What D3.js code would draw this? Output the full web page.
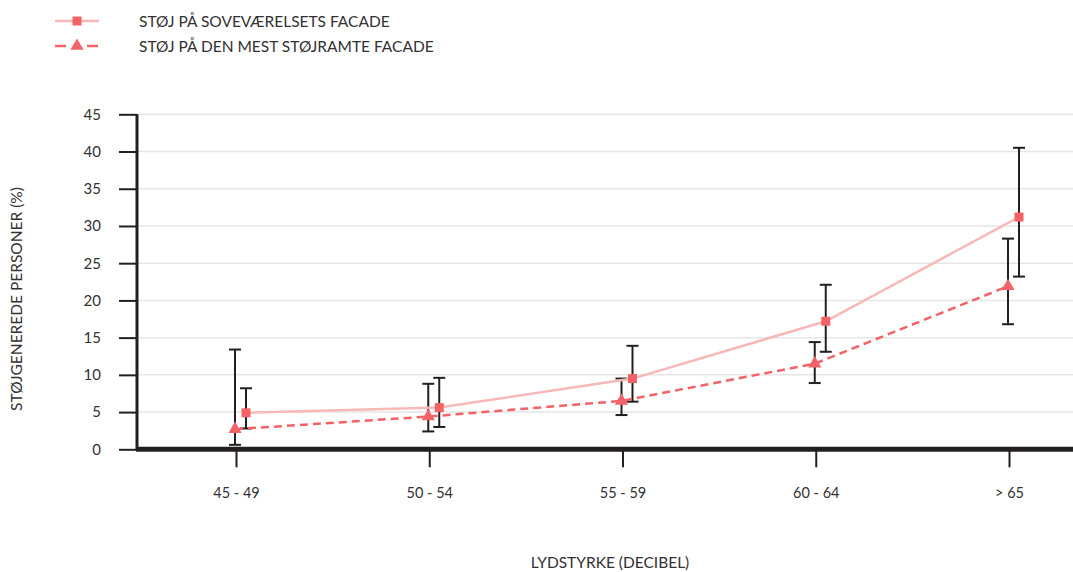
<!DOCTYPE html>
<html>
<head>
<meta charset="utf-8">
<script src="https://cdn.jsdelivr.net/npm/d3@7/dist/d3.min.js"></script>
<style>
  html, body { margin: 0; padding: 0; background: #fff; }
  svg { display: block; font-family: Lato, "Open Sans", sans-serif; }
</style>
</head>
<body>
<svg id="chart" width="1073" height="572"></svg>
<script>
// Sound level bands (x axis)
const categories = ["45 - 49", "50 - 54", "55 - 59", "60 - 64", "> 65"];
const yTicks = [0, 5, 10, 15, 20, 25, 30, 35, 40, 45];

// Share of annoyed people (%) – noise at the bedroom facade
const bedroomValues = [4.9, 5.6, 9.5, 17.2, 31.2];
const bedroomLow    = [2.8, 3.0, 6.4, 13.1, 23.2];
const bedroomHigh   = [8.2, 9.6, 13.9, 22.1, 40.5];

// Share of annoyed people (%) – noise at the most exposed facade
const exposedValues = [2.7, 4.4, 6.5, 11.5, 21.9];
const exposedLow    = [0.6, 2.4, 4.6, 8.9, 16.8];
const exposedHigh   = [13.4, 8.8, 9.5, 14.4, 28.3];

const seriesNames = ["STØJ PÅ SOVEVÆRELSETS FACADE", "STØJ PÅ DEN MEST STØJRAMTE FACADE"];

const W = 1073, H = 572;
const plotLeft = 137, plotTop = 114.3, plotBottom = 449.3;
const textColor = "#333132";
const inkColor = "#231f20";
const red = "#f26266";
const pink = "#f7b8b8";

const svg = d3.select("#chart");

const x = d3.scalePoint().domain(categories).range([236, 1009]);
const y = d3.scaleLinear().domain([0, 45]).range([plotBottom, plotTop]);

// Gridlines
svg.append("g")
  .selectAll("line")
  .data(yTicks.filter(d => d > 0))
  .join("line")
  .attr("x1", plotLeft).attr("x2", W)
  .attr("y1", d => y(d)).attr("y2", d => y(d))
  .attr("stroke", "#e6e6e6").attr("stroke-width", 1.5);

// Y axis
const yAxis = svg.append("g")
  .attr("transform", `translate(${plotLeft},0)`)
  .call(d3.axisLeft(y).tickValues(yTicks).tickSize(18).tickPadding(18).tickFormat(d3.format("d")));
yAxis.select(".domain").attr("stroke", inkColor).attr("stroke-width", 3)
  .attr("d", `M0,${plotTop}V${plotBottom}`);
yAxis.selectAll(".tick line").attr("stroke", inkColor).attr("stroke-width", 2);
yAxis.selectAll(".tick text").attr("fill", textColor).style("font-size", "15px")
  .style("font-family", "Lato, sans-serif");

// X axis
const xAxis = svg.append("g")
  .attr("transform", `translate(0,${plotBottom})`)
  .call(d3.axisBottom(x).tickSize(18).tickPadding(20));
xAxis.select(".domain").attr("stroke", inkColor).attr("stroke-width", 5)
  .attr("d", `M${plotLeft - 1},0H${W}`);
xAxis.selectAll(".tick line").attr("stroke", inkColor).attr("stroke-width", 2);
xAxis.selectAll(".tick text").attr("fill", textColor).style("font-size", "14.5px")
  .style("font-family", "Lato, sans-serif");

// Axis titles
svg.append("text")
  .attr("transform", `translate(22,299) rotate(-90)`)
  .attr("text-anchor", "middle")
  .attr("fill", textColor)
  .style("font-size", "15.5px")
  .text("STØJGENEREDE PERSONER (%)");

svg.append("text")
  .attr("x", 610).attr("y", 568)
  .attr("text-anchor", "middle")
  .attr("fill", textColor)
  .style("font-size", "15.5px")
  .text("LYDSTYRKE (DECIBEL)");

// Series definitions
const series = [
  { name: seriesNames[0], values: bedroomValues, low: bedroomLow, high: bedroomHigh,
    dx: 10, lineColor: pink, dash: null, marker: "square" },
  { name: seriesNames[1], values: exposedValues, low: exposedLow, high: exposedHigh,
    dx: -1, lineColor: red, dash: "8,5", marker: "triangle" }
];

// Error bars
const capW = 12;
series.forEach(s => {
  const g = svg.append("g").attr("stroke", inkColor).attr("stroke-width", 2);
  categories.forEach((c, i) => {
    const cx = x(c) + s.dx;
    g.append("line").attr("x1", cx).attr("x2", cx)
      .attr("y1", y(s.low[i])).attr("y2", y(s.high[i]));
    g.append("line").attr("x1", cx - capW / 2).attr("x2", cx + capW / 2)
      .attr("y1", y(s.high[i])).attr("y2", y(s.high[i]));
    g.append("line").attr("x1", cx - capW / 2).attr("x2", cx + capW / 2)
      .attr("y1", y(s.low[i])).attr("y2", y(s.low[i]));
  });
});

// Lines
series.forEach(s => {
  const line = d3.line()
    .x((d, i) => x(categories[i]) + s.dx)
    .y(d => y(d));
  svg.append("path")
    .datum(s.values)
    .attr("fill", "none")
    .attr("stroke", s.lineColor)
    .attr("stroke-width", 2.5)
    .attr("stroke-dasharray", s.dash)
    .attr("d", line);
});

// Markers
const squareSym = d3.symbol().type(d3.symbolSquare).size(81);
const triSym = d3.symbol().type(d3.symbolTriangle).size(75);
series.forEach(s => {
  svg.append("g")
    .selectAll("path")
    .data(s.values)
    .join("path")
    .attr("transform", (d, i) => `translate(${x(categories[i]) + s.dx},${y(d)})`)
    .attr("d", s.marker === "square" ? squareSym : triSym)
    .attr("fill", red);
});

// Legend
const legend = svg.append("g");
series.forEach((s, i) => {
  const ly = 21 + i * 25;
  const row = legend.append("g").attr("transform", `translate(0,${ly})`);
  row.append("line")
    .attr("x1", 55).attr("x2", 99)
    .attr("y1", 0).attr("y2", 0)
    .attr("stroke", s.lineColor)
    .attr("stroke-width", 2.5)
    .attr("stroke-dasharray", s.dash ? "11,21" : null);
  row.append("path")
    .attr("transform", `translate(77,0)`)
    .attr("d", s.marker === "square" ? squareSym : triSym)
    .attr("fill", red);
  row.append("text")
    .attr("x", 139).attr("y", 6)
    .attr("fill", textColor)
    .style("font-size", "15.5px")
    .text(s.name);
});
</script>
</body>
</html>
